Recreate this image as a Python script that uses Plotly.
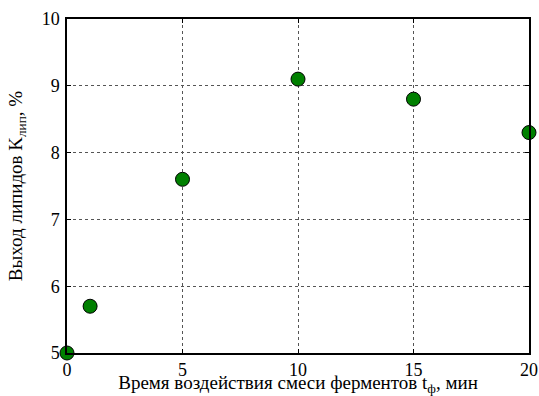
import plotly.graph_objects as go

# Lipid yield vs. enzyme-mixture exposure time
time_min = [0, 1, 5, 10, 15, 20]
lipid_yield = [5.0, 5.7, 7.6, 9.1, 8.8, 8.3]

x_ticks = [0, 5, 10, 15, 20]
y_ticks = [5, 6, 7, 8, 9, 10]

font_family = "Times New Roman, Liberation Serif, serif"

fig = go.Figure(
    go.Scatter(
        x=time_min,
        y=lipid_yield,
        mode="markers",
        marker=dict(size=14, color="#008000", line=dict(color="black", width=1)),
        cliponaxis=False,
        showlegend=False,
    )
)

axis_common = dict(
    showline=True,
    linecolor="black",
    linewidth=1.5,
    mirror="ticks",
    ticks="inside",
    ticklen=4,
    tickcolor="black",
    showgrid=True,
    gridcolor="#555555",
    gridwidth=1,
    griddash="dot",
    zeroline=False,
    automargin=False,
    tickfont=dict(family=font_family, size=18, color="black"),
)

fig.update_xaxes(
    range=[0, 20],
    tickvals=x_ticks,
    ticklabelstandoff=0,
    title=dict(
        text="Время воздействия смеси ферментов t<sub>ф</sub>, мин",
        font=dict(family=font_family, size=19, color="black"),
        standoff=0,
    ),
    **axis_common,
)
fig.update_yaxes(
    range=[5, 10],
    tickvals=y_ticks,
    ticklabelstandoff=2,
    title=dict(
        text="Выход липидов K<sub>лип</sub>, %",
        font=dict(family=font_family, size=19, color="black"),
        standoff=14,
    ),
    **axis_common,
)

fig.update_layout(
    width=539,
    height=396,
    margin=dict(l=67, r=10, t=19, b=43),
    paper_bgcolor="white",
    plot_bgcolor="white",
    font=dict(family=font_family, color="black"),
)

fig.write_html("out.html")
